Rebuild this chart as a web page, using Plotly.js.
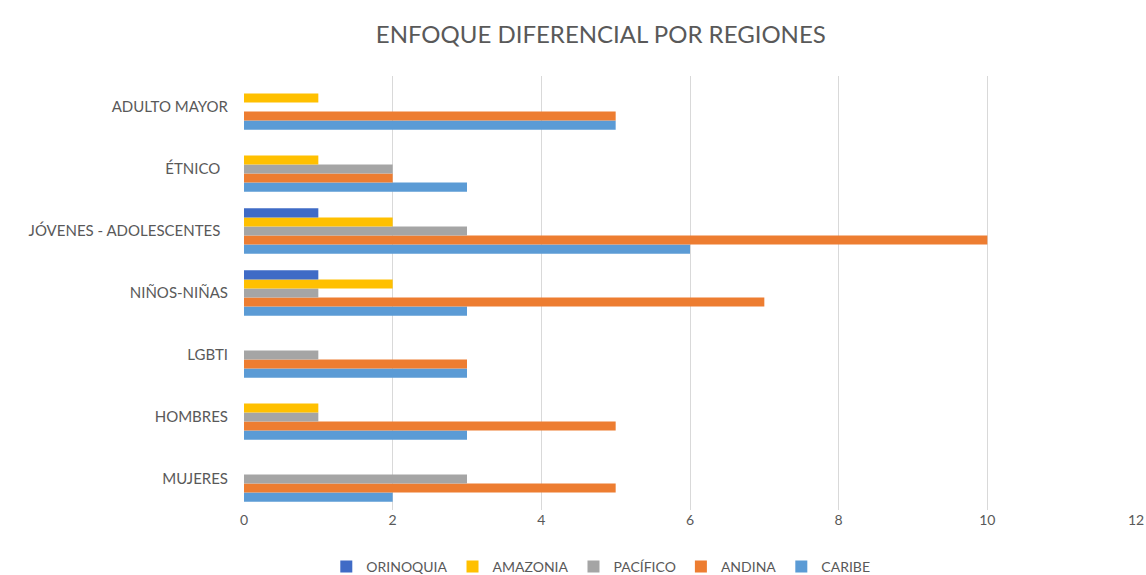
<!DOCTYPE html>
<html>
<head>
<meta charset="utf-8">
<script src="https://cdn.plot.ly/plotly-3.0.1.min.js"></script>
<style>
  html, body { margin: 0; padding: 0; background: #fff; }
  #chart { width: 1146px; height: 575px; }
</style>
</head>
<body>
<div id="chart"></div>
<script>
// categories listed bottom to top, as plotly draws them
const categories = ['MUJERES', 'HOMBRES', 'LGBTI', 'NIÑOS-NIÑAS', 'JÓVENES - ADOLESCENTES', 'ÉTNICO', 'ADULTO MAYOR'];
// the source sheet has trailing blanks on two labels
const categoryLabels = ['MUJERES', 'HOMBRES', 'LGBTI', 'NIÑOS-NIÑAS', 'JÓVENES - ADOLESCENTES\u00a0\u00a0', 'ÉTNICO\u00a0\u00a0', 'ADULTO MAYOR'];

const caribe = [2, 3, 3, 3, 6, 3, 5];
const andina = [5, 5, 3, 7, 10, 2, 5];
const pacifico = [3, 1, 1, 1, 3, 2, 0];
const amazonia = [0, 1, 0, 2, 2, 1, 1];
const orinoquia = [0, 0, 0, 1, 1, 0, 0];

const xTicks = [0, 2, 4, 6, 8, 10, 12];

// first trace sits at the bottom of each group
const series = [
  { name: 'CARIBE', values: caribe, color: '#5B9BD5' },
  { name: 'ANDINA', values: andina, color: '#ED7D31' },
  { name: 'PACÍFICO', values: pacifico, color: '#A5A5A5' },
  { name: 'AMAZONIA', values: amazonia, color: '#FFC000' },
  { name: 'ORINOQUIA', values: orinoquia, color: '#3F6BC6' },
];

const FONT = 'Lato, "Open Sans", sans-serif';

const traces = series.map((s) => ({
  type: 'bar',
  orientation: 'h',
  name: s.name,
  x: s.values,
  y: categories,
  marker: { color: s.color },
  hoverinfo: 'x+name',
}));

const layout = {
  width: 1146,
  height: 575,
  paper_bgcolor: 'white',
  plot_bgcolor: 'white',
  margin: { l: 244, r: 10, t: 76, b: 65 },
  font: { family: FONT, color: '#595959', size: 15 },
  title: {
    text: 'ENFOQUE DIFERENCIAL POR REGIONES',
    font: { family: FONT, size: 24, color: '#595959' },
    xref: 'paper', x: 0.4, xanchor: 'center',
    yref: 'container', y: 0.94, yanchor: 'middle',
  },
  barmode: 'group',
  bargap: 0.27,
  bargroupgap: 0,
  xaxis: {
    range: [0, 12],
    tickvals: xTicks,
    showgrid: true,
    gridcolor: '#d9d9d9',
    gridwidth: 1,
    zeroline: false,
    showline: false,
    ticks: '',
    ticklen: 0,
    tickfont: { size: 14, color: '#595959' },
    fixedrange: true,
  },
  yaxis: {
    type: 'category',
    tickmode: 'array',
    tickvals: categories,
    ticktext: categoryLabels,
    showgrid: false,
    zeroline: false,
    showline: false,
    ticks: '',
    ticklabelstandoff: 15,
    tickfont: { size: 15, color: '#595959' },
    fixedrange: true,
  },
  showlegend: true,
  legend: {
    orientation: 'h',
    traceorder: 'reversed',
    xref: 'paper', x: 0.4, xanchor: 'center',
    yref: 'container', y: 0.014, yanchor: 'middle',
    font: { size: 14, color: '#595959' },
    itemwidth: 30,
  },
};

Plotly.newPlot('chart', traces, layout, { displayModeBar: false, staticPlot: true });
</script>
</body>
</html>
